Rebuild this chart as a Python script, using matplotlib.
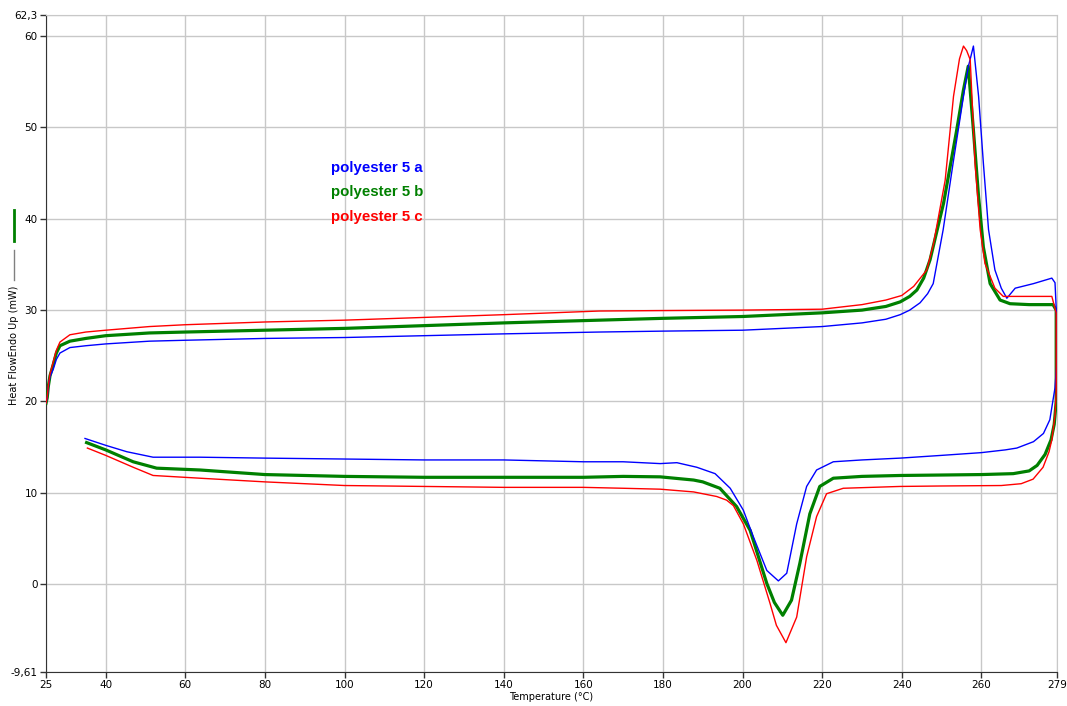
import matplotlib
matplotlib.use("Agg")
import matplotlib.pyplot as plt
from matplotlib.lines import Line2D

# heating + cooling loop for each sample (temperature, heat flow)
temp_a = [25, 25.3, 25.6, 26, 26.8, 27.6, 28.5, 31, 35, 40, 51, 60, 80, 100, 120, 140, 164, 180, 200,
          220, 230, 236, 239.6, 242, 244.6, 246.5, 247.9, 249, 250.4, 252.9, 255.5, 256.7,
          258, 259.3, 260.5, 261.8, 263.4, 265, 266.4, 268.5, 273.1, 277.7, 278.5, 278.9,
          278.9, 278.5, 277.2, 275.6, 273.1, 268.9, 266, 260, 250, 239.6, 230, 222.8, 218.6,
          216.1, 213.6, 211.1, 209, 206.1, 202.7, 200.2, 196.9, 193.1, 188.5, 183.5, 179.3,
          170, 160, 140, 120, 100, 80, 63.7, 51.9, 45.3, 40, 34.8]
flow_a = [19.8, 20.4, 21.6, 22.7, 23.5, 24.6, 25.3, 25.9, 26.1, 26.3, 26.6, 26.7, 26.9, 27.0, 27.2, 27.4,
          27.6, 27.7, 27.8, 28.2, 28.6, 29.0, 29.5, 30.0, 30.8, 31.8, 32.9, 35.5, 38.8, 46.1,
          53.4, 56.6, 58.9, 53.4, 46.1, 38.8, 34.4, 32.4, 31.3, 32.4, 32.9, 33.5, 33.0, 29.3,
          24.0, 21.5, 18.0, 16.5, 15.6, 14.9, 14.7, 14.4, 14.1, 13.8, 13.6, 13.4, 12.5,
          10.7, 6.6, 1.2, 0.36, 1.5, 5.2, 8.1, 10.5, 12.1, 12.8, 13.3, 13.2,
          13.4, 13.4, 13.6, 13.6, 13.7, 13.8, 13.9, 13.9, 14.5, 15.2, 15.95]

temp_b = [25, 25.3, 25.6, 26, 26.8, 27.6, 28.5, 31, 35, 40, 51, 60, 80, 100, 120, 140, 164, 180, 200,
          220, 230, 236, 239.6, 242, 243.8, 245.5, 247.1, 250.5, 253.8, 255.5, 256.7, 258,
          259.3, 260.5, 262.2, 264.7, 267.2, 272, 278, 278.8,
          278.8, 278.3, 277.5, 276, 274, 272, 268, 260, 250, 239.6, 230, 222.8, 219.4, 216.9,
          214.4, 212.3, 210.1, 208, 206.1, 201.9, 198.5, 194.3, 190, 187.7, 179.3, 170, 160,
          140, 120, 100, 80, 63.7, 52.8, 46.9, 40, 35.2]
flow_b = [19.8, 20.4, 21.7, 22.8, 24.0, 25.3, 26.1, 26.6, 26.9, 27.2, 27.5, 27.6, 27.8, 28.0, 28.3, 28.6,
          28.9, 29.1, 29.3, 29.7, 30.0, 30.4, 30.9, 31.5, 32.2, 33.5, 35.5, 41.7, 49.7, 54.1,
          56.7, 49.7, 42.4, 36.9, 32.9, 31.1, 30.7, 30.6, 30.6, 30.0,
          20.0, 17.5, 15.8, 14.2, 13.0, 12.4, 12.1, 12.0, 11.95, 11.9, 11.8, 11.6, 10.7, 7.7,
          2.3, -1.75, -3.4, -2.0, 0.07, 5.9, 8.5, 10.5, 11.2, 11.4, 11.75, 11.8, 11.7,
          11.7, 11.7, 11.8, 12.0, 12.5, 12.7, 13.4, 14.7, 15.5]

temp_c = [25, 25.3, 25.6, 26, 26.8, 27.6, 28.5, 31, 35, 40, 51, 60, 80, 100, 120, 140, 164, 180, 200,
          220, 230, 236, 240, 243, 246.3, 248, 250.9, 253, 254.5, 255.5, 256.3, 257.2, 258.4,
          259.7, 260.9, 263.4, 265.5, 270, 277.7, 278.8,
          278.8, 278.5, 277.7, 277, 275.5, 273, 270, 265, 250, 239.6, 225.3, 221.1, 218.6,
          216.1, 213.6, 210.9, 208.5, 206.9, 203.6, 200.2, 197.7, 196, 193.5, 187.7, 179.3,
          170, 160, 140, 120, 100, 80, 63.7, 51.9, 46.9, 40, 35.4]
flow_c = [19.8, 20.5, 21.8, 23.0, 24.3, 25.6, 26.5, 27.3, 27.6, 27.8, 28.2, 28.4, 28.7, 28.9, 29.2, 29.5,
          29.9, 29.95, 30.0, 30.1, 30.6, 31.1, 31.6, 32.6, 34.4, 37.3, 44.2, 53.4, 57.5, 58.9,
          58.4, 57.4, 46.1, 38.8, 35.1, 32.4, 31.5, 31.5, 31.5, 29.7,
          21.0, 18.5, 15.8, 14.5, 12.8, 11.5, 11.0, 10.8, 10.75, 10.7, 10.5, 9.9, 7.4,
          3.0, -3.6, -6.4, -4.5, -2.1, 2.6, 6.6, 8.6, 9.2, 9.6, 10.1, 10.4,
          10.5, 10.6, 10.6, 10.7, 10.8, 11.2, 11.6, 11.9, 12.8, 14.1, 14.9]

labels = ["polyester 5 a", "polyester 5 b", "polyester 5 c"]
xticks = [25, 40, 60, 80, 100, 120, 140, 160, 180, 200, 220, 240, 260, 279]
yticks = [-9.61, 0, 10, 20, 30, 40, 50, 60, 62.3]
ytick_labels = ["-9,61", "0", "10", "20", "30", "40", "50", "60", "62,3"]

plt.rcParams['font.family'] = ['DejaVu Sans']

fig = plt.figure(figsize=(10.67, 7.06), dpi=100)
ax = fig.add_axes([46 / 1067, 34 / 706, 1011 / 1067, 657 / 706])

ax.plot(temp_b, flow_b, color='#008000', lw=2.3, zorder=3)
ax.plot(temp_a, flow_a, color='#0000ff', lw=1.0, zorder=4)
ax.plot(temp_c, flow_c, color='#ff0000', lw=1.0, zorder=5)

ax.set_xlim(25, 279)
ax.set_ylim(-9.61, 62.3)
ax.set_xticks(xticks)
ax.set_xticklabels([str(t) for t in xticks])
ax.set_yticks(yticks)
ax.set_yticklabels(ytick_labels)
ax.tick_params(labelsize=7.5, length=4, width=1, color='#333333', pad=2)
ax.grid(True, color='#c8c8c8', lw=1)
ax.set_axisbelow(True)

for s in ['top', 'right']:
    ax.spines[s].set_color('#c8c8c8')
for s in ['left', 'bottom']:
    ax.spines[s].set_color('#333333')

ax.set_xlabel("Temperature (°C)", fontsize=7, labelpad=1)

# legend-like text block
cols = ['#0000ff', '#008000', '#ff0000']
ys = [0.767, 0.7306, 0.6925]
for lab, c, y in zip(labels, cols, ys):
    ax.text(0.282, y, lab, color=c, transform=ax.transAxes, fontsize=10.8,
            fontweight='bold', family='Liberation Sans', va='center', ha='left')

# y axis label with the two little line markers
fig.text(14 / 1067, 1 - 345 / 706, "Heat FlowEndo Up (mW)", rotation=90,
         fontsize=7, ha='center', va='center')
fig.add_artist(Line2D([14 / 1067, 14 / 1067], [1 - 210 / 706, 1 - 241 / 706],
                      color='#008000', lw=2, transform=fig.transFigure))
fig.add_artist(Line2D([14 / 1067, 14 / 1067], [1 - 250 / 706, 1 - 280 / 706],
                      color='#808080', lw=1, transform=fig.transFigure))

fig.savefig("out.png", dpi=100)
